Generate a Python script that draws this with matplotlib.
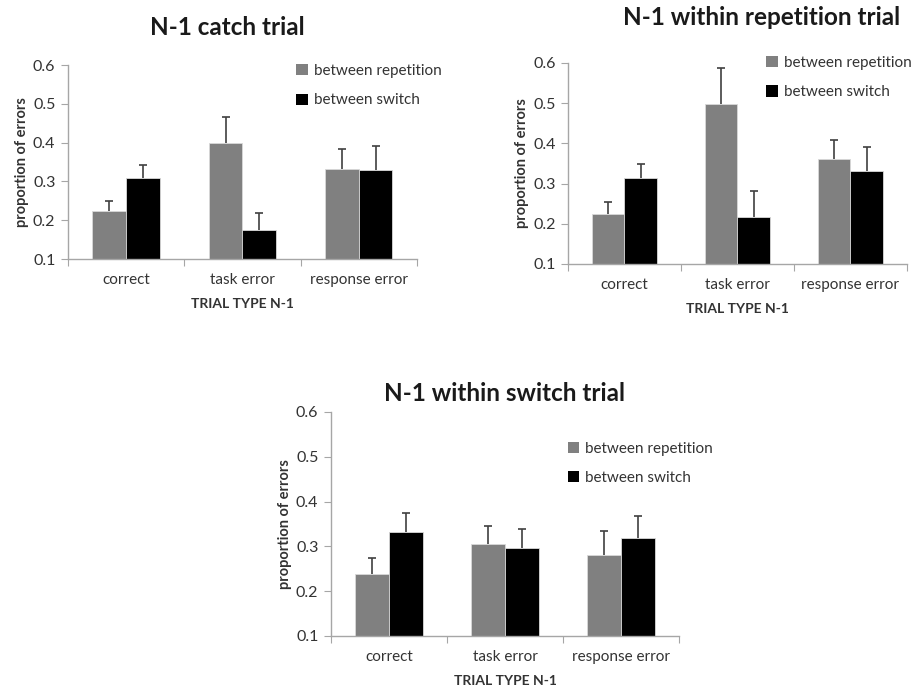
import matplotlib
matplotlib.use("Agg")
import matplotlib.pyplot as plt
from matplotlib.patches import Patch
import numpy as np

plt.rcParams['font.family'] = ['Lato', 'DejaVu Sans']

categories = ["correct", "task error", "response error"]
series_names = ["between repetition", "between switch"]
titles = ["N-1 catch trial", "N-1 within repetition trial", "N-1 within switch trial"]

catch_rep = [0.225, 0.400, 0.333]
catch_rep_err = [0.024, 0.067, 0.050]
catch_sw = [0.310, 0.174, 0.329]
catch_sw_err = [0.033, 0.045, 0.062]

wrep_rep = [0.224, 0.498, 0.361]
wrep_rep_err = [0.029, 0.090, 0.048]
wrep_sw = [0.314, 0.218, 0.332]
wrep_sw_err = [0.035, 0.064, 0.058]

wsw_rep = [0.238, 0.306, 0.281]
wsw_rep_err = [0.035, 0.040, 0.053]
wsw_sw = [0.333, 0.296, 0.319]
wsw_sw_err = [0.042, 0.042, 0.048]

yticks = [0.1, 0.2, 0.3, 0.4, 0.5, 0.6]

fig = plt.figure(figsize=(9.11, 6.9), dpi=100)

panels = [
    dict(rect=[0.0746, 0.6246, 0.383, 0.281], rep=catch_rep, repe=catch_rep_err,
         sw=catch_sw, swe=catch_sw_err, title=titles[0], leg=(0.655, 1.005), tpad=22, tx=0.456),
    dict(rect=[0.6235, 0.6174, 0.372, 0.2913], rep=wrep_rep, repe=wrep_rep_err,
         sw=wrep_sw, swe=wrep_sw_err, title=titles[1], leg=(0.585, 1.035), tpad=27, tx=0.572),
    dict(rect=[0.3633, 0.0783, 0.382, 0.3246], rep=wsw_rep, repe=wsw_rep_err,
         sw=wsw_sw, swe=wsw_sw_err, title=titles[2], leg=(0.68, 0.868), tpad=8, tx=0.5),
]

gray = '#808080'
spine_c = '#a6a6a6'
w = 0.29
x = np.arange(len(categories))

for p in panels:
    ax = fig.add_axes(p['rect'])
    ax.bar(x - w / 2, p['rep'], w, bottom=0, color=gray, edgecolor='#d9d9d9', linewidth=0.6, zorder=2)
    ax.bar(x + w / 2, p['sw'], w, bottom=0, color='black', edgecolor='#d9d9d9', linewidth=0.6, zorder=2)
    for xs, vals, errs in [(x - w / 2, p['rep'], p['repe']), (x + w / 2, p['sw'], p['swe'])]:
        eb = ax.errorbar(xs, vals, yerr=[np.zeros(3), errs], fmt='none',
                         ecolor='#404040', elinewidth=1.2, capsize=3.2, capthick=1.2, zorder=3)
        eb[1][0].set_visible(False)
    ax.set_ylim(0.1, 0.6)
    ax.set_xlim(-0.5, 2.5)
    ax.set_yticks(yticks)
    ax.set_yticklabels([f"{t:.1f}" for t in yticks], fontsize=11.5, color='#333333')
    ax.set_xticks([-0.5, 0.5, 1.5, 2.5])
    ax.set_xticklabels([])
    ax.set_xticks(x, minor=True)
    ax.set_xticklabels(categories, minor=True, fontsize=11, color='#333333')
    ax.tick_params(axis='x', which='minor', length=0, pad=10)
    ax.tick_params(axis='x', which='major', length=5, color=spine_c, direction='out')
    ax.tick_params(axis='y', length=5, color=spine_c, direction='out', pad=4)
    for s in ['top', 'right']:
        ax.spines[s].set_visible(False)
    for s in ['left', 'bottom']:
        ax.spines[s].set_color(spine_c)
        ax.spines[s].set_linewidth(1.0)
    ax.set_ylabel("proportion of errors", fontsize=10.5, fontweight='bold', color='#333333', labelpad=3)
    ax.set_xlabel("TRIAL TYPE N-1", fontsize=10, fontweight='bold', color='#333333', labelpad=8)
    ax.set_title(p['title'], fontsize=17.5, fontweight='bold', color='#1a1a1a', pad=p['tpad'], x=p['tx'])
    handles = [Patch(facecolor=gray, edgecolor='none'), Patch(facecolor='black', edgecolor='none')]
    ax.legend(handles, series_names, loc='upper left', bbox_to_anchor=p['leg'], frameon=False,
              fontsize=11, handlelength=0.75, handleheight=0.75, handletextpad=0.4,
              labelspacing=1.0, borderpad=0, borderaxespad=0, labelcolor='#333333')

fig.savefig("out.png", dpi=100)
